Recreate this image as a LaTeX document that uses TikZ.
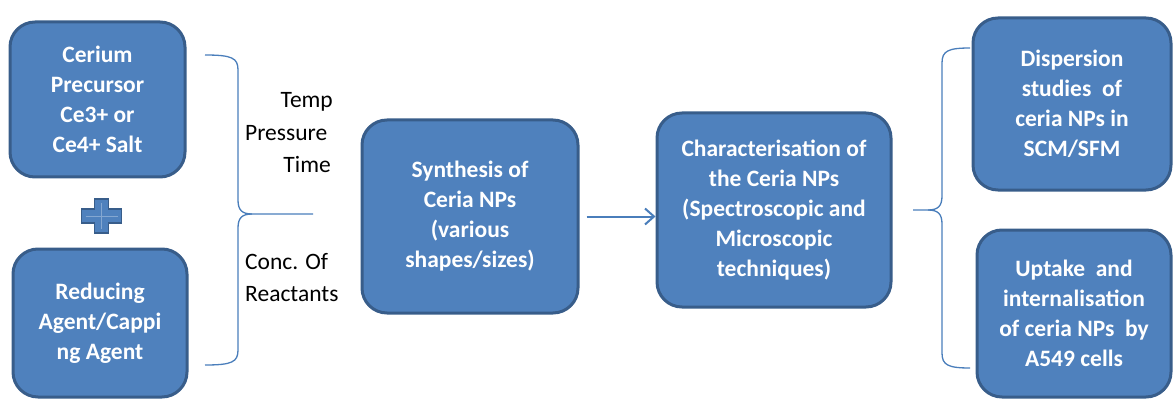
\documentclass[tikz,border=0pt]{standalone}
\usepackage{fontspec}
\setmainfont{Carlito}
\usetikzlibrary{arrows.meta}
\definecolor{boxfill}{HTML}{4F81BD}
\definecolor{boxline}{HTML}{385D8A}
\definecolor{brace}{HTML}{4A7EBB}
\begin{document}
\begin{tikzpicture}[x=1pt,y=-1pt,
  blk/.style={draw=boxline, fill=boxfill, line width=3pt, rounded corners=25pt,
    text=white, align=center, inner sep=0pt,
    font=\bfseries\fontsize{23.5}{30}\selectfont},
  lbl/.style={inner sep=0pt, text=black, font=\fontsize{23.5}{30}\selectfont},
  brc/.style={draw=brace, line width=1.3pt},
  arr/.style={draw=brace, line width=2pt, -{Straight Barb[length=9pt,width=16pt,line width=2pt]}}
]
\useasboundingbox (0,0) rectangle (1173,401);

\node[blk, minimum width=175pt, minimum height=155pt] (b1) at (97.5,99.5)
  {Cerium\\Precursor\\Ce3+ or\\Ce4+ Salt};
\node[blk, minimum width=174pt, minimum height=148pt] (b2) at (100,323)
  {Reducing\\Agent/Cappi\\ng Agent};
\node[blk, minimum width=216pt, minimum height=193pt] (syn) at (470,216.5)
  {Synthesis of\\Ceria NPs\\(various\\shapes/sizes)};
\node[blk, minimum width=234pt, minimum height=194pt] (chr) at (774,210)
  {Characterisation of\\the Ceria NPs\\(Spectroscopic and\\Microscopic\\techniques)};
\node[blk, minimum width=198pt, minimum height=172pt] (disp) at (1072,104)
  {Dispersion\\studies\ \ of\\ceria NPs in\\SCM/SFM};
\node[blk, minimum width=194pt, minimum height=167pt] (upt) at (1074,313.5)
  {Uptake\ \ and\\internalisation\\of ceria NPs\ \ by\\A549 cells};

% plus sign
\node[inner sep=0pt, minimum size=0pt] (plus) at (101.5,216) {};
\draw[draw=boxline, fill=boxfill, line width=1.5pt]
  (plus) ++(-7,-17) -- ++(14,0) -- ++(0,10) -- ++(13,0) -- ++(0,14) -- ++(-13,0)
  -- ++(0,10) -- ++(-14,0) -- ++(0,-10) -- ++(-13,0) -- ++(0,-14) -- ++(13,0) -- cycle;
\draw[draw=boxfill!70!white, line width=1pt] (plus) ++(-16,0) -- ++(32,0);
\draw[draw=boxfill!70!white, line width=1pt] (plus) ++(0,-13) -- ++(0,26);

% left brace
\coordinate (lbt) at (205,55);
\coordinate (lbb) at (205,365);
\coordinate (lbm) at (313,214);
\draw[brc] (lbt) .. controls (232,55) and (238,58) .. (238,70) -- (238,200)
  .. controls (238,210) and (242,214) .. (252,214) -- (lbm);
\draw[brc] (lbb) .. controls (232,365) and (238,362) .. (238,350) -- (238,228)
  .. controls (238,218) and (242,214) .. (252,214);

% right brace
\coordinate (rbt) at (970,48);
\coordinate (rbb) at (970,368);
\coordinate (rbm) at (913,210);
\draw[brc] (rbt) .. controls (948,48) and (942,51) .. (942,63) -- (942,196)
  .. controls (942,206) and (938,210) .. (928,210) -- (rbm);
\draw[brc] (rbb) .. controls (948,368) and (942,365) .. (942,353) -- (942,224)
  .. controls (942,214) and (938,210) .. (928,210);

% labels
\node[lbl, anchor=east] (temp) at (333,102) {Temp};
\node[lbl, anchor=west] (pres) at (245,133) {Pressure};
\node[lbl, anchor=east] (time) at (331,164) {Time};
\node[lbl, anchor=west] (conc) at (245,262) {Conc. Of};
\node[lbl, anchor=west] (reac) at (245,294) {Reactants};

% arrow
\draw[arr] ([xshift=7pt]syn.east) -- (chr.west |- syn.east);
\end{tikzpicture}
\end{document}
